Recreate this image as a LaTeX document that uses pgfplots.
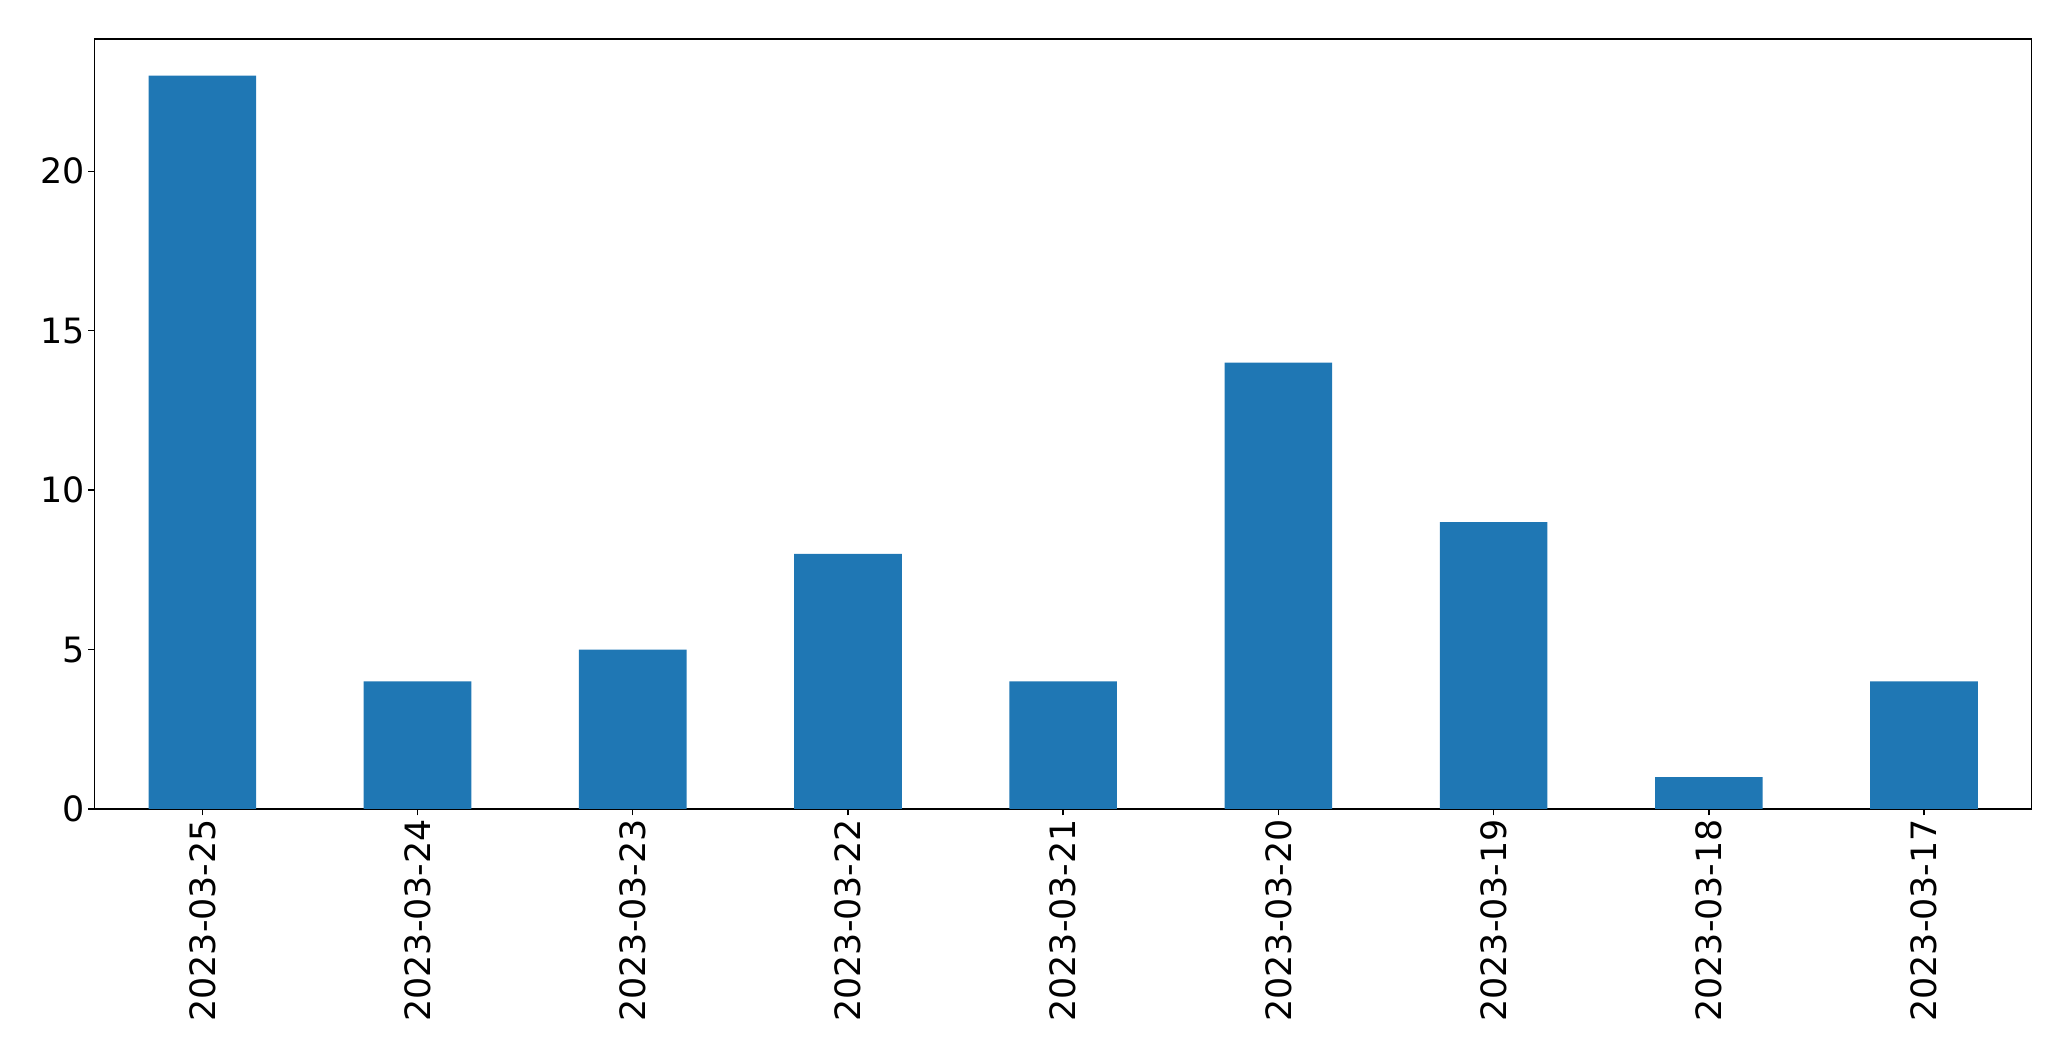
\documentclass[border=0pt]{standalone}
\usepackage{pgfplots}
\pgfplotsset{compat=1.18}
\usepackage{fontspec}
\setmainfont{DejaVu Sans}
\definecolor{mplblue}{HTML}{1F77B4}
\begin{document}
\begin{tikzpicture}[x=1bp,y=1bp]
\path[use as bounding box] (0,0) rectangle (2071,1061);
\begin{axis}[
  at={(94.7bp,252bp)}, anchor=south west,
  scale only axis,
  width=1937bp, height=770bp,
  xmin=-0.5, xmax=8.5,
  ymin=0, ymax=24.15,
  xtick={0,1,2,3,4,5,6,7,8},
  xticklabels={2023-03-25,2023-03-24,2023-03-23,2023-03-22,2023-03-21,2023-03-20,2023-03-19,2023-03-18,2023-03-17},
  x tick label style={rotate=90, anchor=east},
  ytick={0,5,10,15,20},
  tick label style={font=\fontsize{35}{42}\selectfont},
  /pgf/number format/assume math mode=true,
  major tick length=6.5bp,
  tick align=outside,
  tick pos=left,
  tick style={line width=1.5bp, black},
  axis line style={line width=1.5bp},
  ybar, bar width=0.5,
]
\addplot[fill=mplblue, draw=none] coordinates {
(0,23) (1,4) (2,5) (3,8) (4,4) (5,14) (6,9) (7,1) (8,4)
};
\end{axis}
\end{tikzpicture}
\end{document}
